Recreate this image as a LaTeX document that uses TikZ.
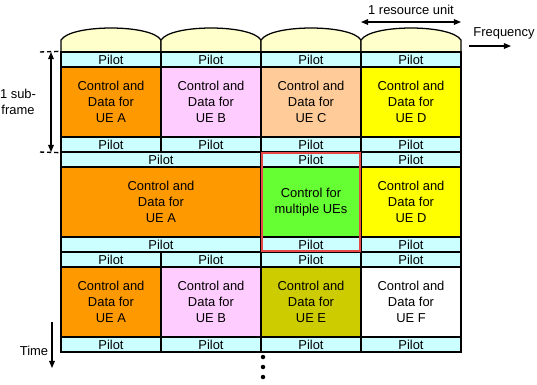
\documentclass[tikz,border=0pt]{standalone}
\usepackage{fontspec}
\setmainfont{Liberation Sans}
\usepackage{tikz}
\usetikzlibrary{arrows.meta}

\definecolor{capyellow}{RGB}{255,255,204}
\definecolor{pilotcyan}{RGB}{204,255,255}
\definecolor{ueorange}{RGB}{255,153,0}
\definecolor{uepink}{RGB}{255,204,255}
\definecolor{uepeach}{RGB}{255,204,153}
\definecolor{ueyellow}{RGB}{255,255,0}
\definecolor{multigreen}{RGB}{102,255,51}
\definecolor{ueolive}{RGB}{204,204,0}
\definecolor{boxred}{RGB}{232,72,72}

\begin{document}
\begin{tikzpicture}[
  x=0.025cm, y=-0.025cm,
  font=\fontsize{9.2}{11.2}\selectfont,
  pilot/.style={rectangle, draw, line width=0.9pt, fill=pilotcyan, minimum width=2.5cm, minimum height=0.375cm, inner sep=0pt},
  widepilot/.style={pilot, minimum width=5cm},
  cell/.style={rectangle, draw, line width=0.9pt, minimum width=2.5cm, minimum height=1.75cm, align=center, inner sep=0pt},
  widecell/.style={cell, minimum width=5cm},
  freqcap/.style={draw, line width=0.9pt, fill=capyellow},
  marker/.style={dash pattern=on 3pt off 2pt, line width=1pt},
  arr/.style={-{Triangle[length=5pt, width=4pt]}, line width=0.8pt},
  dblarr/.style={{Triangle[length=5pt, width=4pt]}-{Triangle[length=5pt, width=4pt]}, line width=0.8pt}
]
  \useasboundingbox (0,0) rectangle (537,384);

  % frequency caps on top of the columns
  \foreach \x in {61,161,261,361}
    \draw[freqcap] (\x,52) -- (\x,40) .. controls ({\x+10},24) and ({\x+90},24) .. ({\x+100},40) -- ({\x+100},52);

  % first sub-frame
  \node[pilot] (p1a) at (111,59.5) {Pilot};
  \node[pilot] (p1b) at (211,59.5) {Pilot};
  \node[pilot] (p1c) at (311,59.5) {Pilot};
  \node[pilot] (p1d) at (411,59.5) {Pilot};
  \node[cell, fill=ueorange] (d1a) at (111,102) {Control and\\Data for\\UE A};
  \node[cell, fill=uepink] (d1b) at (211,102) {Control and\\Data for\\UE B};
  \node[cell, fill=uepeach] (d1c) at (311,102) {Control and\\Data for\\UE C};
  \node[cell, fill=ueyellow] (d1d) at (411,102) {Control and\\Data for\\UE D};
  \node[pilot] (q1a) at (111,144.5) {Pilot};
  \node[pilot] (q1b) at (211,144.5) {Pilot};
  \node[pilot] (q1c) at (311,144.5) {Pilot};
  \node[pilot] (q1d) at (411,144.5) {Pilot};

  % second sub-frame
  \node[widepilot] (p2ab) at (161,159.5) {Pilot};
  \node[pilot] (p2c) at (311,159.5) {Pilot};
  \node[pilot] (p2d) at (411,159.5) {Pilot};
  \node[widecell, fill=ueorange] (d2ab) at (161,202) {Control and\\Data for\\UE A};
  \node[cell, fill=multigreen] (d2c) at (311,202) {Control for\\multiple UEs};
  \node[cell, fill=ueyellow] (d2d) at (411,202) {Control and\\Data for\\UE D};
  \node[widepilot] (q2ab) at (161,244.5) {Pilot};
  \node[pilot] (q2c) at (311,244.5) {Pilot};
  \node[pilot] (q2d) at (411,244.5) {Pilot};

  % third sub-frame
  \node[pilot] (p3a) at (111,259.5) {Pilot};
  \node[pilot] (p3b) at (211,259.5) {Pilot};
  \node[pilot] (p3c) at (311,259.5) {Pilot};
  \node[pilot] (p3d) at (411,259.5) {Pilot};
  \node[cell, fill=ueorange] (d3a) at (111,302) {Control and\\Data for\\UE A};
  \node[cell, fill=uepink] (d3b) at (211,302) {Control and\\Data for\\UE B};
  \node[cell, fill=ueolive] (d3c) at (311,302) {Control and\\Data for\\UE E};
  \node[cell, fill=white] (d3d) at (411,302) {Control and\\Data for\\UE F};
  \node[pilot] (q3a) at (111,344.5) {Pilot};
  \node[pilot] (q3b) at (211,344.5) {Pilot};
  \node[pilot] (q3c) at (311,344.5) {Pilot};
  \node[pilot] (q3d) at (411,344.5) {Pilot};

  % shared control block
  \draw[boxred, line width=1.1pt] ([shift={(1.5,1.5)}]p2c.north west) rectangle ([shift={(-1.5,-1.5)}]q2c.south east);

  % sub-frame marker
  \coordinate (t1) at (40,52);
  \coordinate (t2) at (40,152);
  \coordinate (s1) at (51,52);
  \coordinate (s2) at (51,152);
  \draw[marker] (t1) -- (p1a.north west);
  \draw[marker] (t2) -- (q1a.south west);
  \draw[dblarr] (s1) -- (s2);
  \node[align=center] (sublbl) at (18,102) {1 sub-\\frame};

  % resource unit and frequency
  \coordinate (r1) at (361,22);
  \coordinate (r2) at (461,22);
  \draw[dblarr] (r1) -- (r2);
  \node (rulbl) at (411,10) {1 resource unit};
  \node (freq) at (504,33) {Frequency};
  \coordinate (f1) at (469,46);
  \coordinate (f2) at (511,46);
  \draw[arr] (f1) -- (f2);

  % time
  \node (time) at (34,351) {Time};
  \coordinate (tm1) at (52,322);
  \coordinate (tm2) at (52,368);
  \draw[arr] (tm1) -- (tm2);

  % continuation dots
  \foreach \y in {357,367,377}
    \fill (263,\y) circle[radius=1.6pt];
\end{tikzpicture}
\end{document}
